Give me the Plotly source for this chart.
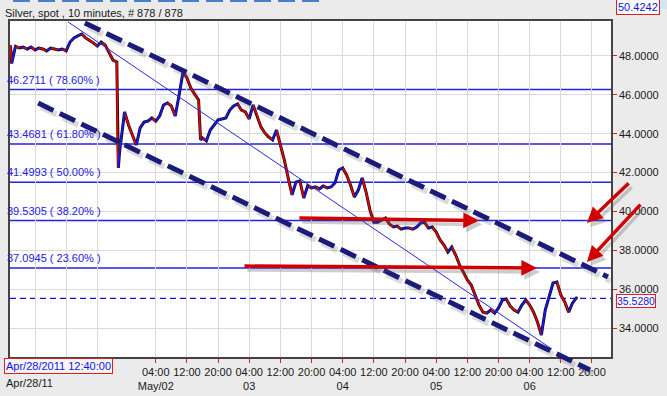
import plotly.graph_objects as go

# ---------------- data ----------------
# x = trading hours counted from Apr/28 20:00 (weekend gap removed)
hours = [-6.3, -6, -5, -4, -3, -2, -1, 0, 1, 2, 3, 4, 5, 6, 7, 8, 9, 10, 11, 12,
         13, 14, 15, 16, 17, 18, 19, 20, 21, 21.2, 21.4, 21.7, 22, 23, 24, 25, 26,
         27, 28, 29, 30, 31, 32, 33, 34, 35, 36, 37, 38, 39, 40, 41, 42, 42.5, 43,
         44, 45, 46, 47, 48, 49, 50, 51, 52, 53, 54, 55, 56, 57, 58, 59, 60, 61,
         62, 63, 64, 65, 66, 67, 68, 69, 70, 71, 72, 73, 74, 75, 76, 77, 78, 79,
         80, 81, 82, 83, 84, 85, 86, 87, 88, 89, 90, 91, 92, 93, 94, 95, 96, 97,
         98, 99, 100, 101, 102, 103, 104, 105, 106, 107, 108, 109, 110, 111, 112,
         113, 114, 115, 116, 117, 118, 119, 120, 121, 122, 123, 124, 125, 126,
         127, 128, 129, 130, 131, 132, 133, 134, 135, 136, 137, 138, 139, 139.3]
price = [48.55, 47.62, 48.50, 48.41, 48.46, 48.36, 48.46, 48.31, 48.41, 48.36,
         48.26, 48.41, 48.36, 48.31, 48.36, 48.26, 48.72, 48.93, 49.03, 49.13,
         48.93, 48.82, 48.67, 48.51, 48.72, 48.57, 48.21, 47.79, 47.69, 43.30,
         42.24, 43.05, 43.60, 45.12, 44.45, 43.93, 43.42, 44.30, 44.60, 44.65,
         44.81, 44.65, 44.91, 45.48, 45.58, 45.43, 44.91, 45.99, 47.18, 46.87,
         46.35, 46.04, 45.74, 43.68, 43.78, 43.63, 44.19, 44.45, 44.71, 44.76,
         44.81, 45.22, 45.43, 45.53, 45.22, 45.12, 44.76, 45.48, 44.96, 44.35,
         44.04, 43.83, 43.68, 44.19, 43.42, 42.65, 41.72, 40.85, 41.51, 41.57,
         40.69, 41.31, 41.21, 41.26, 41.16, 41.31, 41.21, 41.26, 41.46, 42.13,
         42.24, 41.88, 41.36, 40.74, 41.10, 41.72, 41.00, 40.07, 39.45, 39.45,
         39.56, 39.66, 39.35, 39.20, 39.25, 39.09, 39.15, 39.15, 39.09, 39.20,
         39.40, 39.45, 39.15, 39.20, 38.94, 38.53, 38.27, 37.91, 38.17, 37.76,
         37.25, 36.83, 36.47, 36.21, 35.70, 35.18, 34.82, 34.77, 34.93, 34.77,
         35.03, 35.44, 35.49, 35.13, 34.93, 34.82, 35.18, 35.44, 35.18, 34.82,
         34.31, 33.64, 34.93, 35.70, 36.32, 36.37, 35.70, 35.34, 34.82, 35.29,
         35.55, 35.528]

x_tick_hours = [0, 8, 16, 31, 39, 47, 55, 63, 71, 79, 87, 95, 103, 111, 119, 127, 135, 143]
x_tick_text = ["", "", "", "04:00<br>May/02", "12:00", "20:00", "04:00<br>03", "12:00",
               "20:00", "04:00<br>04", "12:00", "20:00", "04:00<br>05", "12:00", "20:00",
               "04:00<br>06", "12:00", "20:00"]
first_date_label = "Apr/28/11"
first_date_hour = -1.3
y_tick_values = [34, 36, 38, 40, 42, 44, 46, 48]

fib_levels = [46.2711, 43.4681, 41.4993, 39.5305, 37.0945]
fib_pcts = ["78.60%", "61.80%", "50.00%", "38.20%", "23.60%"]
last_price = 35.5280
header_price = 50.4242
title_text = "Silver, spot , 10 minutes, # 878 / 878"
start_stamp = "Apr/28/2011 12:40:00"

# hand-drawn channel / trend lines (hours, price)
upper_channel = [(12.8, 49.70), (147.1, 36.63)]
lower_channel = [(0.8, 45.58), (142.5, 31.84)]
trend_line = [(8.5, 49.75), (132.7, 32.92)]
# red arrows: (tail_hours, tail_price, tip_hours, tip_price)
red_arrows = [(67.5, 39.66, 114.0, 39.53),
              (53.4, 37.19, 128.9, 37.09),
              (152.8, 41.52, 141.7, 39.40),
              (155.8, 40.43, 141.7, 37.40)]

# ---------------- layout constants ----------------
W, H = 667, 396
ML, MR, MT, MB = 10, 56, 21, 39
XR = [-6.42, 147.88]
YR = [32.51, 49.80]
FONT = "Liberation Sans, Arial, sans-serif"
BG = "#EBEBEB"
FIB_BLUE = "#2121E8"
NAVY = "#1B1B7C"


def px_frac(h):
    return (h - XR[0]) / (XR[1] - XR[0])


def py_frac(p):
    return (p - YR[0]) / (YR[1] - YR[0])


fig = go.Figure()

# price path coloured by direction
up_x, up_y, dn_x, dn_y = [], [], [], []
for i in range(len(price) - 1):
    if price[i + 1] >= price[i]:
        up_x += [hours[i], hours[i + 1], None]
        up_y += [price[i], price[i + 1], None]
    else:
        dn_x += [hours[i], hours[i + 1], None]
        dn_y += [price[i], price[i + 1], None]

fig.add_trace(go.Scatter(x=hours, y=price, mode="lines", line=dict(color="#111111", width=3),
                         hoverinfo="skip", showlegend=False))
fig.add_trace(go.Scatter(x=dn_x, y=dn_y, mode="lines", line=dict(color="#E80000", width=1.7),
                         hoverinfo="skip", showlegend=False))
fig.add_trace(go.Scatter(x=up_x, y=up_y, mode="lines", line=dict(color="#1414FF", width=1.7),
                         hoverinfo="skip", showlegend=False))

shapes = []
annotations = []

# fibonacci levels
for lvl, pct in zip(fib_levels, fib_pcts):
    shapes.append(dict(type="line", xref="paper", yref="y", x0=0, x1=1, y0=lvl, y1=lvl,
                       line=dict(color=FIB_BLUE, width=1.5), layer="between"))
    annotations.append(dict(xref="paper", yref="y", x=-0.008, y=lvl, xanchor="left",
                            yanchor="bottom", yshift=2, showarrow=False,
                            text=f"{lvl:.4f} ( {pct} )",
                            font=dict(family=FONT, size=11, color=FIB_BLUE)))

# last price dashed line
shapes.append(dict(type="line", xref="paper", yref="y", x0=0.0, x1=1, y0=last_price, y1=last_price,
                   line=dict(color="#1010F0", width=1.3, dash="6px,4px"), layer="between"))

# thin trend line
shapes.append(dict(type="line", xref="x", yref="y", x0=trend_line[0][0], y0=trend_line[0][1],
                   x1=trend_line[1][0], y1=trend_line[1][1], line=dict(color="#2626F0", width=1)))

# channel lines (paper refs so they may run past the frame), with soft shadow
PW, PH = W - ML - MR, H - MT - MB
for (h0, p0), (h1, p1) in (upper_channel, lower_channel):
    for dx, dy, col, w in ((3, -4, "rgba(90,90,90,0.22)", 6), (0, 0, NAVY, 5)):
        shapes.append(dict(type="line", xref="paper", yref="paper",
                           x0=px_frac(h0) + dx / PW, y0=py_frac(p0) + dy / PH,
                           x1=px_frac(h1) + dx / PW, y1=py_frac(p1) + dy / PH,
                           line=dict(color=col, width=w, dash="17px,7px")))

# red arrows with shadow
for th, tp, hh, hp in red_arrows:
    for xs, ys, col in ((3, -4, "rgba(80,80,80,0.28)"), (0, 0, "#D10000")):
        annotations.append(dict(xref="x", yref="y", axref="x", ayref="y", x=hh, y=hp, ax=th, ay=tp,
                                text="", showarrow=True, arrowhead=2, arrowsize=0.9,
                                arrowwidth=3.5, arrowcolor=col, xshift=xs, yshift=ys))

# toolbar strip at top
tool_x = [13, 38, 62, 86, 110, 134, 158, 182, 206, 230, 254, 278, 302]
for tx in tool_x:
    shapes.append(dict(type="rect", xref="paper", yref="paper",
                       x0=(tx - ML) / PW, x1=(tx + 17 - ML) / PW,
                       y0=(H - MB - 0) / PH, y1=(H - MB - 2) / PH,
                       fillcolor="#4A7FD0", line=dict(width=0), layer="above"))
shapes.append(dict(type="rect", xref="paper", yref="paper",
                   x0=(638 - ML) / PW, x1=(667 - ML) / PW,
                   y0=(H - MB - 0) / PH, y1=(H - MB - 9) / PH,
                   fillcolor="#D6E3F2", line=dict(width=0)))

# header / footer texts
annotations.append(dict(xref="paper", yref="paper", x=(3 - ML) / PW, y=(H - MB - 13) / PH,
                        xanchor="left", yanchor="middle", showarrow=False, text=title_text,
                        font=dict(family=FONT, size=11, color="#1a1a1a")))
annotations.append(dict(xref="paper", yref="paper", x=(638 - ML) / PW, y=(H - MB - 7) / PH,
                        xanchor="center", yanchor="middle", showarrow=False,
                        text=f"{header_price:.4f}", bgcolor="white", bordercolor="#E02020",
                        borderwidth=1, borderpad=1,
                        font=dict(family=FONT, size=11, color="#1010F0")))
annotations.append(dict(xref="paper", yref="y", x=1, xshift=5, y=last_price, yshift=-3,
                        xanchor="left", yanchor="middle", showarrow=False,
                        text=f"{last_price:.4f}", bgcolor="white", bordercolor="#E02020",
                        borderwidth=1, borderpad=0,
                        font=dict(family=FONT, size=10.5, color="#1010F0")))
annotations.append(dict(xref="paper", yref="paper", x=(4 - ML) / PW, y=(H - MB - 366) / PH,
                        xanchor="left", yanchor="middle", showarrow=False, text=start_stamp,
                        bgcolor="#F7F7F7", bordercolor="#E02020", borderwidth=1, borderpad=1,
                        font=dict(family=FONT, size=11, color="#1010F0")))
annotations.append(dict(xref="x", yref="paper", x=first_date_hour, y=(H - MB - 383) / PH,
                        xanchor="center", yanchor="middle", showarrow=False,
                        text=first_date_label, font=dict(family=FONT, size=11, color="#1a1a1a")))

fig.update_layout(
    width=W, height=H, margin=dict(l=ML, r=MR, t=MT, b=MB, autoexpand=False),
    paper_bgcolor=BG, plot_bgcolor="white", showlegend=False,
    shapes=shapes, annotations=annotations,
    font=dict(family=FONT, size=11, color="#1a1a1a"),
    xaxis=dict(range=XR, tickmode="array", tickvals=x_tick_hours, ticktext=x_tick_text,
               tickangle=0, automargin=False,
               ticks="outside", ticklen=4, tickcolor="#E02020", tickwidth=1,
               showgrid=True, gridcolor="#DADADA", gridwidth=1, zeroline=False,
               showline=True, linecolor="#444444", linewidth=1.5, mirror=True,
               tickfont=dict(family=FONT, size=11, color="#1a1a1a"), fixedrange=True),
    yaxis=dict(range=YR, side="right", tickmode="array", tickvals=y_tick_values,
               ticktext=[f"{v:.4f}" for v in y_tick_values], automargin=False,
               ticks="outside", ticklen=4, tickcolor="#E02020", tickwidth=1,
               showgrid=True, gridcolor="#DADADA", gridwidth=1, zeroline=False,
               showline=True, linecolor="#444444", linewidth=1.5, mirror=True,
               tickfont=dict(family=FONT, size=11, color="#1a1a1a"), fixedrange=True),
)

fig.write_html("out.html")
